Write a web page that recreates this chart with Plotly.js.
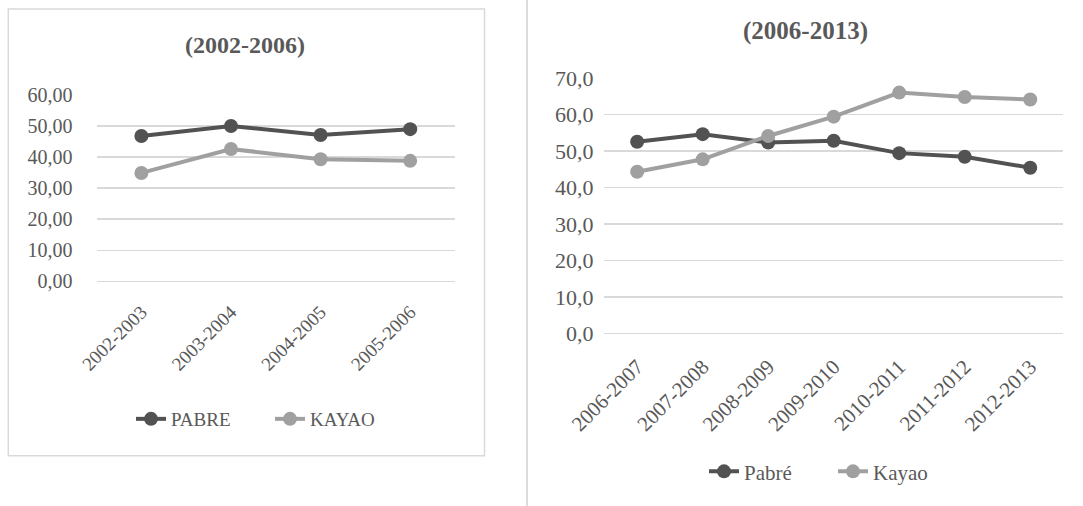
<!DOCTYPE html>
<html>
<head>
<meta charset="utf-8">
<script src="https://cdn.plot.ly/plotly-3.0.1.min.js"></script>
<style>html,body{margin:0;padding:0;background:#fff}#chart{width:1083px;height:506px}</style>
</head>
<body>
<div id="chart"></div>
<script>
// ---- Data ----
const periodsA = ["2002-2003", "2003-2004", "2004-2005", "2005-2006"];
const pabreA = [46.8, 50.0, 47.1, 49.0];
const kayaoA = [34.9, 42.6, 39.3, 38.8];
const namesA = ["PABRE", "KAYAO"];
const titleA = "(2002-2006)";

const periodsB = ["2006-2007", "2007-2008", "2008-2009", "2009-2010", "2010-2011", "2011-2012", "2012-2013"];
const pabreB = [52.5, 54.6, 52.3, 52.8, 49.4, 48.4, 45.4];
const kayaoB = [44.3, 47.7, 54.1, 59.4, 66.0, 64.8, 64.1];
const namesB = ["Pabré", "Kayao"];
const titleB = "(2006-2013)";

// ---- Style ----
const dark = "#525252", light = "#a0a0a0", txt = "#595959", grid = "#d9d9d9";
const FONT = "Liberation Serif";
const W = 1083, H = 506;
const px = v => v / W, py = v => 1 - v / H;

function tr(x, y, name, color, xa, ya, leg) {
  return {x: x, y: y, name: name, type: "scatter", mode: "lines+markers",
    xaxis: xa, yaxis: ya, legend: leg,
    line: {color: color, width: 4}, marker: {color: color, size: 14},
    hoverinfo: "skip"};
}

const data = [
  tr(periodsA, pabreA, namesA[0], dark, "x", "y", "legend"),
  tr(periodsA, kayaoA, namesA[1], light, "x", "y", "legend"),
  tr(periodsB, pabreB, namesB[0], dark, "x2", "y2", "legend2"),
  tr(periodsB, kayaoB, namesB[1], light, "x2", "y2", "legend2")
];

const xcommon = {type: "category", showgrid: false, showline: false, zeroline: false,
  ticks: "", tickangle: -45, fixedrange: true};
const ycommon = {showgrid: true, gridcolor: grid, gridwidth: 1.5, zeroline: true, zerolinecolor: grid,
  zerolinewidth: 1.5, showline: false, ticks: "", dtick: 10, fixedrange: true};

const layout = {
  width: W, height: H,
  margin: {l: 0, r: 0, t: 0, b: 0},
  paper_bgcolor: "#fff", plot_bgcolor: "rgba(0,0,0,0)",
  separators: ",.",
  font: {family: FONT, color: txt},
  xaxis: Object.assign({}, xcommon, {domain: [px(96.6), px(455)], range: [-0.5, 3.5], anchor: "y",
    ticklabelstandoff: 15, tickfont: {family: FONT, size: 19, color: txt}}),
  yaxis: Object.assign({}, ycommon, {domain: [py(281.3), py(95)], range: [0, 60], tickformat: ".2f",
    anchor: "x", ticklabelstandoff: 23, tickfont: {family: FONT, size: 20, color: txt}}),
  xaxis2: Object.assign({}, xcommon, {domain: [px(604.4), px(1063)], range: [-0.5, 6.5], anchor: "y2",
    ticklabelstandoff: 16, tickfont: {family: FONT, size: 21, color: txt}}),
  yaxis2: Object.assign({}, ycommon, {domain: [py(333.3), py(78)], range: [0, 70], tickformat: ".1f",
    anchor: "x2", ticklabelstandoff: 10, tickfont: {family: FONT, size: 22, color: txt}}),
  legend: {orientation: "h", x: px(270), xanchor: "center", y: py(419), yanchor: "middle",
    entrywidth: 94, font: {family: FONT, size: 19, color: txt}, bgcolor: "rgba(0,0,0,0)"},
  legend2: {orientation: "h", x: px(833), xanchor: "center", y: py(471.7), yanchor: "middle",
    entrywidth: 84, font: {family: FONT, size: 21, color: txt}, bgcolor: "rgba(0,0,0,0)"},
  annotations: [
    {text: "<b>" + titleA + "</b>", xref: "paper", yref: "paper", x: px(245), y: py(45),
     xanchor: "center", yanchor: "middle", showarrow: false, font: {family: FONT, size: 24, color: txt}},
    {text: "<b>" + titleB + "</b>", xref: "paper", yref: "paper", x: px(805), y: py(31),
     xanchor: "center", yanchor: "middle", showarrow: false, font: {family: FONT, size: 25, color: txt}}
  ],
  shapes: [
    {type: "rect", xref: "paper", yref: "paper", x0: px(8.3), x1: px(484.5), y0: py(455.7), y1: py(9),
     line: {color: grid, width: 1.5}},
    {type: "line", xref: "paper", yref: "paper", x0: px(527), x1: px(527), y0: 0, y1: 1,
     line: {color: "#dcdcdc", width: 2}}
  ]
};

Plotly.newPlot("chart", data, layout, {displayModeBar: false, staticPlot: true});
</script>
</body>
</html>
